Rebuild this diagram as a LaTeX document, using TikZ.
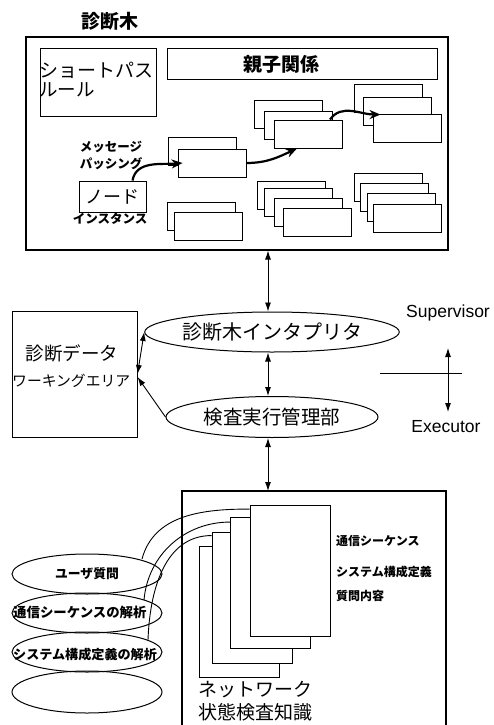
\documentclass[tikz,border=0pt]{standalone}
\usepackage{fontspec}
\setmainfont{Noto Sans CJK JP}
\newfontfamily\latf{Liberation Sans}
\usetikzlibrary{shapes.geometric,arrows.meta}
\newcommand{\myfs}[1]{\fontsize{#1}{#1}\selectfont}
\tikzset{
  bx/.style={draw,fill=white,line width=0.9pt,minimum width=68pt,minimum height=28pt,inner sep=0pt},
  pg/.style={draw,fill=white,line width=0.9pt,minimum width=80pt,minimum height=131pt,inner sep=0pt},
  frame/.style={draw,line width=1.1pt,inner sep=0pt},
  ell/.style={draw,ellipse,line width=1pt,inner sep=0pt},
  bigarr/.style={line width=2.2pt,-{Stealth[length=11pt,width=9pt]}},
  arr/.style={line width=0.9pt,{Latex[length=9pt,width=6pt]}-{Latex[length=9pt,width=6pt]}},
  sarr/.style={line width=0.9pt,-{Latex[length=9pt,width=6pt]}},
  wire/.style={line width=0.9pt},
  txt/.style={inner sep=0pt},
}
\begin{document}
\begin{tikzpicture}[x=1pt,y=-1pt]
\useasboundingbox (0,0) rectangle (493,725);
% ---------- top: diagnosis tree ----------
\node[txt] (ttl) at (110,21) {\myfs{19}\bfseries 診断木};
\node[frame,minimum width=422pt,minimum height=213pt] (outer) at (237,143.5) {};
\node[frame,line width=0.9pt,minimum width=116pt,minimum height=68pt] (spbox) at (98,82) {};
\node[txt,anchor=west] (sp1) at (39,70) {\myfs{19}ショートパス};
\node[txt,anchor=west] (sp2) at (39,90) {\myfs{18.5}ルール};
\node[frame,line width=0.9pt,minimum width=270pt,minimum height=31pt] (oyako) at (302,63.5) {};
\node[txt] (oyakot) at (281,64) {\myfs{19}\bfseries 親子関係};
\node[txt] (msg1) at (111,147) {\myfs{12.5}\bfseries メッセージ};
\node[txt] (msg2) at (111,164) {\myfs{12.5}\bfseries パッシング};
\node[frame,line width=0.9pt,minimum width=67pt,minimum height=31pt] (nd) at (112.5,196.5) {\myfs{18}ノード};
\node[txt] (inst) at (110,219) {\myfs{12.5}\bfseries インスタンス};
% stack A
\node[bx] (a1) at (202,151) {};
\node[bx] (a2) at (212,163) {};
% stack B
\node[bx] (b1) at (288,114) {};
\node[bx] (b2) at (298,125) {};
\node[bx] (b3) at (308,134) {};
% stack C
\node[bx] (c1) at (388,98) {};
\node[bx] (c2) at (397,111) {};
\node[bx] (c3) at (407,128) {};
% stack D
\node[bx] (d1) at (201,216) {};
\node[bx] (d2) at (208,226) {};
% stack E
\node[bx] (e1) at (291,195) {};
\node[bx] (e2) at (298,202) {};
\node[bx] (e3) at (308,212) {};
\node[bx] (e4) at (317,222) {};
% stack F
\node[bx] (f1) at (388,187) {};
\node[bx] (f2) at (394,197) {};
\node[bx] (f3) at (401,207) {};
\node[bx] (f4) at (407,218) {};
% message passing arrows
\draw[bigarr] ([xshift=20pt]nd.north) to[out=80,in=185] ([xshift=5pt]a2.west);
\draw[bigarr] (a2.east) to[out=0,in=205] ([xshift=-11pt]b3.south);
\draw[bigarr] ([xshift=22pt]b3.north) to[out=55,in=180] ([xshift=8pt,yshift=-1pt]c3.north west);
% ---------- middle ----------
\node[ell,minimum width=205pt,minimum height=40pt] (interp) at (272,332) {\myfs{20}診断木インタプリタ};
\node[ell,minimum width=212pt,minimum height=41pt] (exec) at (272,417) {\myfs{19.5}検査実行管理部};
\node[frame,line width=1pt,minimum width=125pt,minimum height=126pt] (data) at (74.5,374) {};
\node[txt] (datat) at (72,353) {\myfs{18.5}診断データ};
\node[txt,anchor=west] (work) at (12,381) {\myfs{14.8}ワーキングエリア};
\coordinate (ax) at (268,0);
\draw[arr] (ax |- outer.south) -- (ax |- interp.north);
\draw[arr] (ax |- interp.south) -- (ax |- exec.north);
\draw[arr] (data.east) -- (interp.west);
\draw[sarr] (exec.west) -- ([yshift=-3pt]data.east);
% supervisor / executor
\node[txt] (sup) at (448,313) {\latf\myfs{17.5}Supervisor};
\node[txt] (exe) at (446,427) {\latf\myfs{17.5}Executor};
\coordinate (hl1) at (380,373);
\coordinate (hl2) at (462,373);
\draw[wire] (hl1) -- (hl2);
\coordinate (va1) at (448,348);
\coordinate (va2) at (448,412);
\draw[arr] (va1) -- (va2);
% ---------- bottom: knowledge box ----------
\coordinate (kbl) at (182,725);
\coordinate (kbtl) at (182,491);
\coordinate (kbtr) at (446,491);
\coordinate (kbr) at (446,725);
\draw[line width=1.1pt] (kbl) -- (kbtl) -- (kbtr) -- (kbr);
\draw[arr] (ax |- exec.south) -- (ax |- kbtl);
\node[pg] (p4) at (239.5,612) {};
\node[pg] (p3) at (252,597.5) {};
\node[pg] (p2) at (270.5,583) {};
\node[pg] (p1) at (290,571) {};
\node[txt,anchor=west] (k1) at (336,541) {\myfs{12}\bfseries 通信シーケンス};
\node[txt,anchor=west] (k2) at (336,572) {\myfs{12}\bfseries システム構成定義};
\node[txt,anchor=west] (k3) at (336,596) {\myfs{12}\bfseries 質問内容};
\node[txt,anchor=west] (nw1) at (198,690) {\myfs{19}ネットワーク};
\node[txt,anchor=west] (nw2) at (198,712) {\myfs{19}状態検査知識};
% left ellipses
\node[ell,minimum width=150pt,minimum height=40pt] (u1) at (87,574) {\myfs{12.8}\bfseries ユーザ質問};
\node[ell,minimum width=150pt,minimum height=40pt] (u2) at (87,613) {};
\node[ell,minimum width=150pt,minimum height=40pt] (u3) at (87,652) {};
\node[ell,minimum width=150pt,minimum height=42pt] (u4) at (87,692) {};
\node[txt,anchor=west] (u2t) at (13,612) {\myfs{13.4}\bfseries 通信シーケンスの解析};
\node[txt,anchor=west] (u3t) at (13,654) {\myfs{13.1}\bfseries システム構成定義の解析};
\coordinate (s1) at (142,559);
\coordinate (s2) at (144,600);
\coordinate (s3) at (148,640);
\draw[wire] (s1) to[out=75,in=180] ([yshift=-4pt]p1.north west);
\draw[wire] (s2) to[out=85,in=180] ([yshift=-5pt]p2.north west);
\draw[wire] (s3) to[out=88,in=180] ([yshift=-4pt]p3.north west);
\end{tikzpicture}
\end{document}
